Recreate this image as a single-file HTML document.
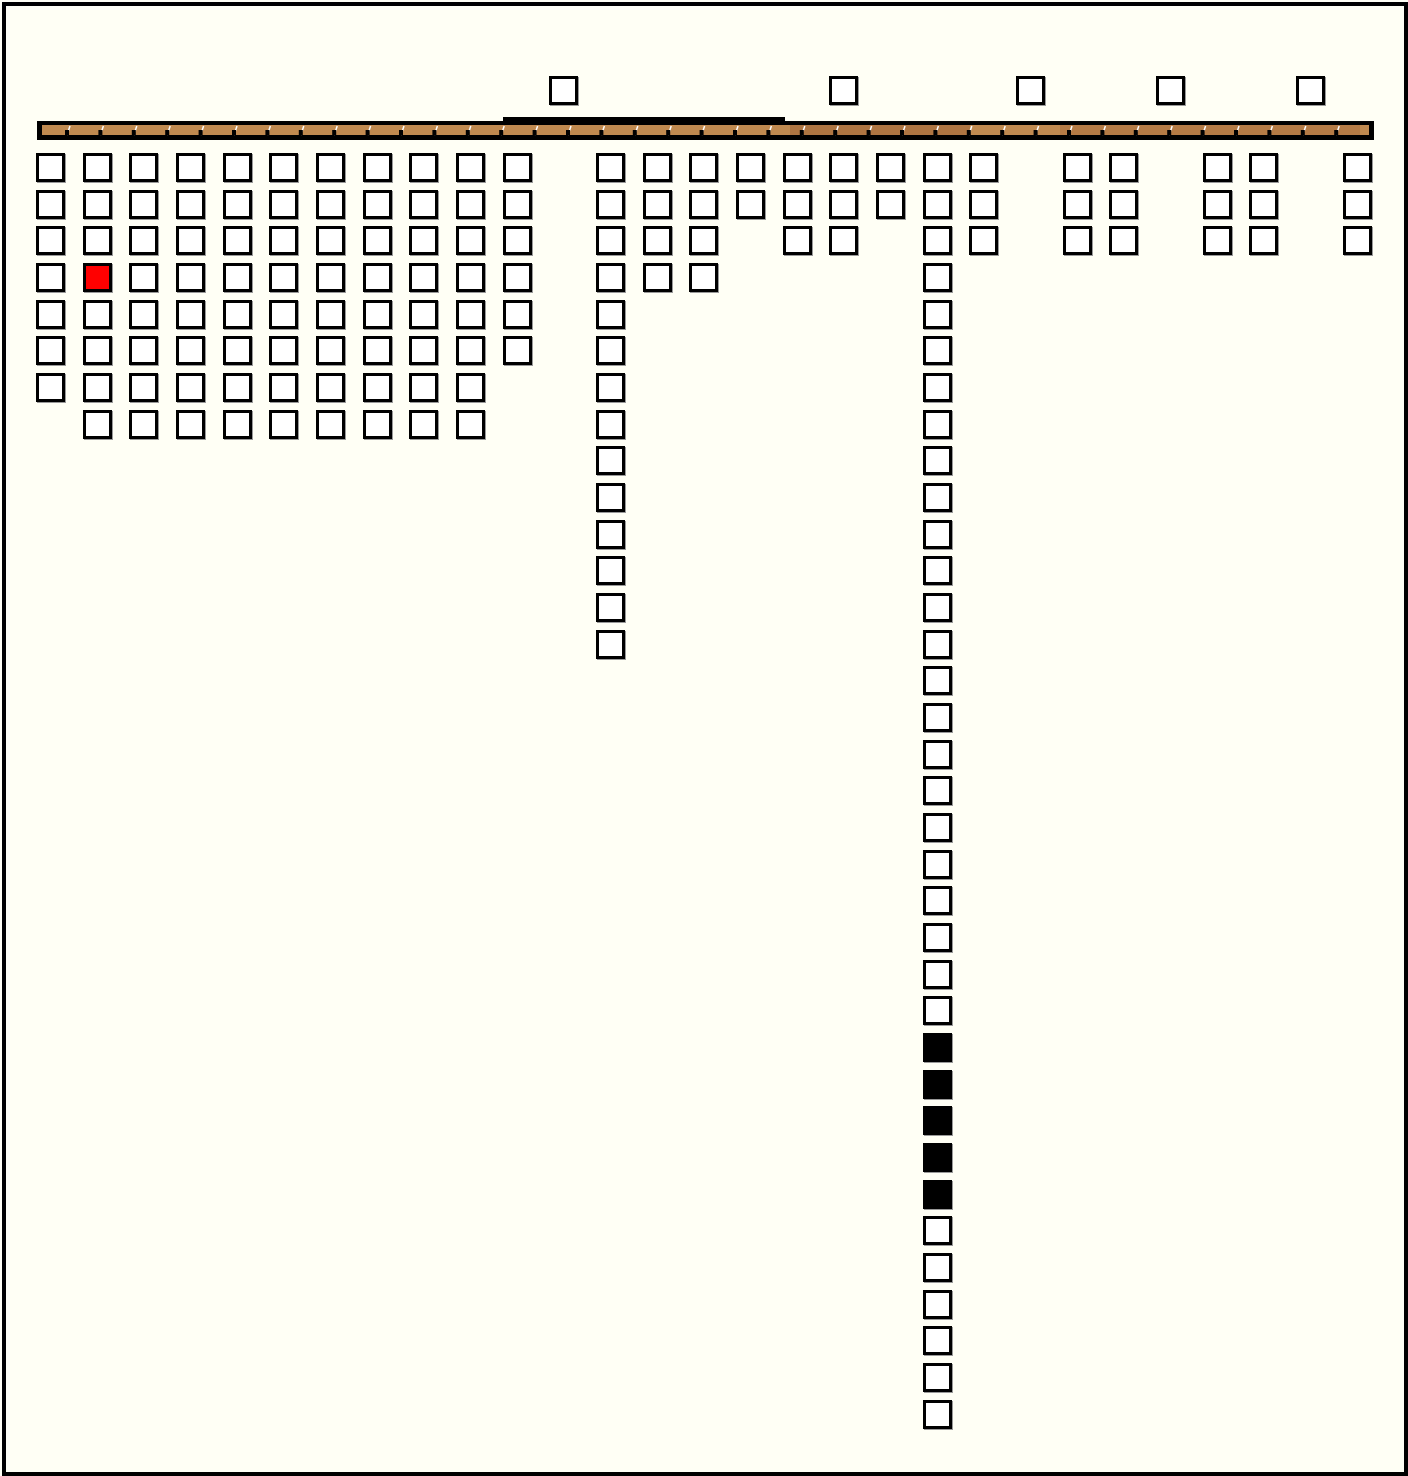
<!DOCTYPE html>
<html><head><meta charset="utf-8"><style>
html,body{margin:0;padding:0;background:#fffff5;}
body{width:1408px;height:1475px;position:relative;overflow:hidden;font-family:"Liberation Sans",sans-serif;}
.frame{position:absolute;left:2px;top:2px;width:1398px;height:1466px;border:4px solid #000;}
.b{position:absolute;width:23px;height:23px;border:3px solid #000;background:#fff;box-shadow:1px 1px 0 #999;}
.k{background:#000;}
.r{background:#f00;}
</style></head><body>
<div class="frame"></div>
<svg style="position:absolute;left:0;top:0" width="1408" height="160">
<rect x="37" y="121" width="1337" height="19" fill="#000"/>
<rect x="503" y="117" width="282" height="8" fill="#000"/>
<rect x="42" y="125" width="1327" height="10" fill="#c08a50"/>
<rect x="790" y="125" width="180" height="10" fill="#9a5a30" opacity="0.45"/>
<rect x="1060" y="125" width="300" height="10" fill="#9a5a30" opacity="0.3"/>
<g stroke="#fff" stroke-width="1.5" id="t"></g>
<g fill="#000" id="tk"></g>
</svg>
<div id="c"></div>
<script>
var c=document.getElementById('c'),h='';
function box(x,y,cls){h+='<div class="b '+(cls||'')+'" style="left:'+x+'px;top:'+y+'px"></div>';}
var x0=36,p=46.67,y0=153,rp=36.67;
var cols={0:7,1:8,2:8,3:8,4:8,5:8,6:8,7:8,8:8,9:8,10:6,12:14,13:4,14:4,15:2,16:3,17:3,18:2,19:35,20:3,22:3,23:3,25:3,26:3,28:3};
for(var k in cols){var i=+k;for(var r=0;r<cols[k];r++){var cls='';if(i==1&&r==3)cls='r';if(i==19&&r>=24&&r<=28)cls='k';box(Math.round(x0+i*p),Math.round(y0+r*rp),cls);}}
[11,17,21,24,27].forEach(function(i){box(Math.round(x0+i*p),76);});
c.innerHTML=h;
var s='',t='';
for(var x=70;x<1370;x+=33.4){s+='<line x1="'+(x-3)+'" y1="135" x2="'+x+'" y2="126"/>';t+='<rect x="'+(x-5)+'" y="130" width="4" height="5"/>';}
document.getElementById('t').innerHTML=s;document.getElementById('tk').innerHTML=t;
</script>
</body></html>
